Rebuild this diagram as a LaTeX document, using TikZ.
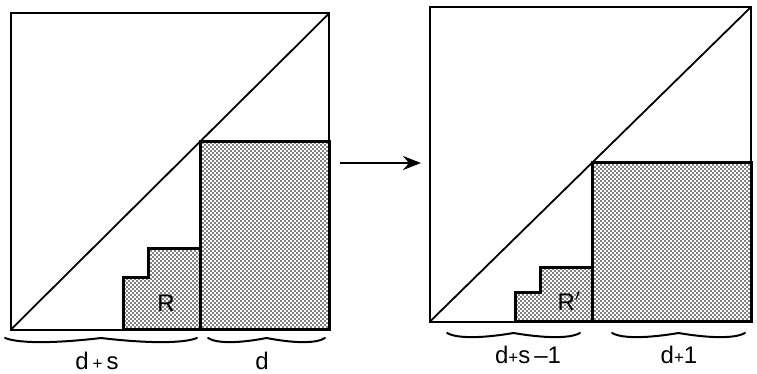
\documentclass[tikz,border=0pt]{standalone}
\usepackage{fontspec}
\setmainfont{Liberation Sans}
\usetikzlibrary{patterns,arrows.meta}
\pgfdeclarepatternformonly{halftone}{\pgfpoint{-1pt}{-1pt}}{\pgfpoint{5pt}{5pt}}{\pgfpoint{4pt}{4pt}}{%
  \pgfpathcircle{\pgfpoint{1pt}{1pt}}{0.95pt}%
  \pgfpathcircle{\pgfpoint{3pt}{3pt}}{0.95pt}%
  \pgfusepath{fill}}
\tikzset{
  frame/.style={line width=2pt, line join=miter},
  diag/.style={line width=1.8pt},
  shaded/.style={pattern=halftone, draw, line width=3pt, line join=miter},
  lbl/.style={font=\fontsize{24}{28}\selectfont, inner sep=0pt},
  bracepath/.style={line width=2pt, line cap=round},
  arr/.style={line width=2.4pt, -{Stealth[length=18pt,width=14pt,inset=6pt]}}
}
% brace: #1 left x, #2 right x, #3 y
\newcommand{\wavybrace}[3]{%
  \pgfmathsetmacro{\bw}{#2-#1}%
  \pgfmathsetmacro{\bm}{(#1+#2)/2}%
  \draw[bracepath] (#1,#3-2) .. controls (#1+0.08*\bw,#3+4) and (\bm-0.22*\bw,#3+3) .. (\bm,#3-2)
     .. controls (\bm+0.22*\bw,#3+3) and (#2-0.08*\bw,#3+4) .. (#2,#3-2);}
\newcommand{\smallplus}{{\fontsize{17}{17}\selectfont+}}
\begin{document}
\begin{tikzpicture}[x=1pt,y=-1pt]
\useasboundingbox (0,0) rectangle (757,374);
% ---------- left panel ----------
\coordinate (LTL) at (11,13.5);
\coordinate (LBR) at (329,329.5);
\draw[shaded] (200,141.7) rectangle (329,329.5);
\draw[shaded] (123,329.5) -- (123,277) -- (148,277) -- (148,248) -- (200,248) -- (200,329.5) -- cycle;
\draw[frame] (LTL) rectangle (LBR);
\draw[diag] (11,329.5) -- (329,13.5);
\node[lbl] (R) at (166,303) {R};
\wavybrace{5}{197}{340}
\wavybrace{208}{325}{340}
\node[lbl] (ds) at (97,361) {d\,\smallplus\,s};
\node[lbl] (d) at (262,361) {d};
% ---------- arrow ----------
\coordinate (A1) at (340,163);
\coordinate (A2) at (421,163);
\draw[arr] (A1) -- (A2);
% ---------- right panel ----------
\coordinate (RTL) at (430,7);
\coordinate (RBR) at (751,321.5);
\draw[shaded] (592,162.8) rectangle (751,321.5);
\draw[shaded] (515,321.5) -- (515,292) -- (540,292) -- (540,267) -- (592,267) -- (592,321.5) -- cycle;
\draw[frame] (RTL) rectangle (RBR);
\draw[diag] (430,321.5) -- (751,7);
\node[lbl] (Rp) at (569,301) {R$^{\prime}$};
\wavybrace{447}{580}{335}
\wavybrace{612}{745}{335}
\node[lbl] (dsm) at (528,355) {d\smallplus s\,–1};
\node[lbl] (dp) at (679,355) {d\smallplus 1};
\end{tikzpicture}
\end{document}
